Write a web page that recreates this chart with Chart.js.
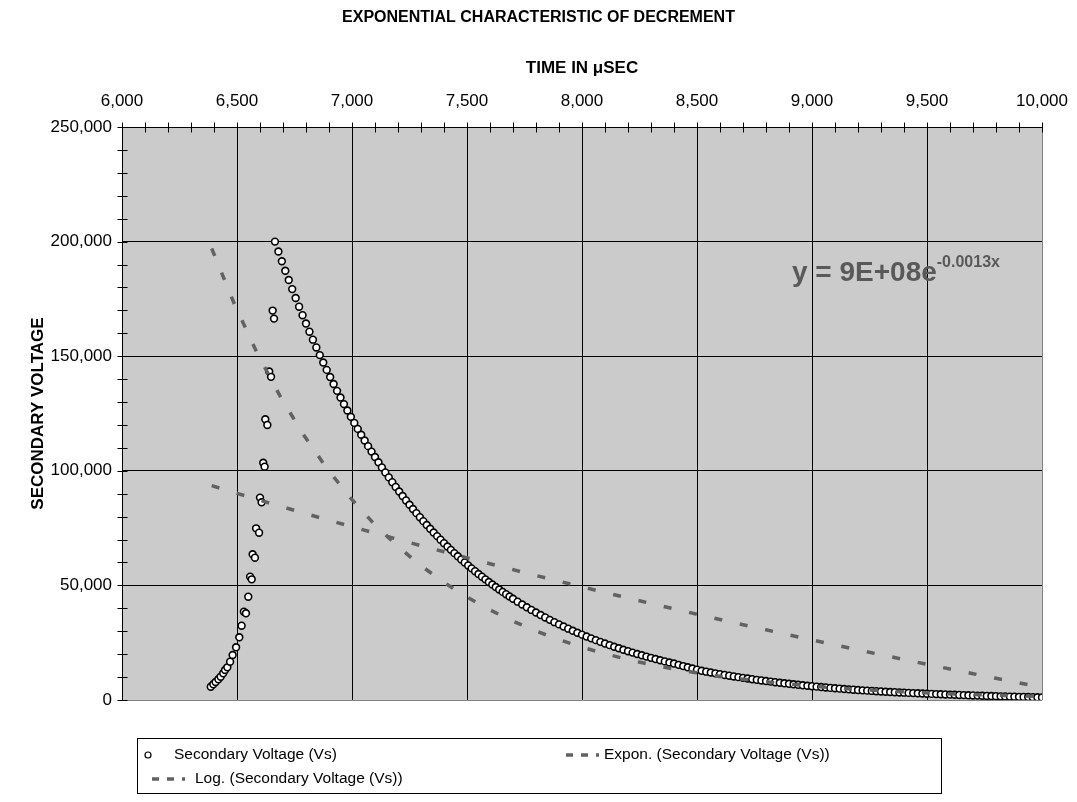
<!DOCTYPE html>
<html>
<head>
<meta charset="utf-8">
<script src="https://cdn.jsdelivr.net/npm/chart.js@4.4.1/dist/chart.umd.min.js"></script>
<style>
  html, body { margin: 0; padding: 0; background: #fff; }
  #wrap { width: 1077px; height: 802px; }
</style>
</head>
<body>
<div id="wrap"><canvas id="myChart" width="1077" height="802"></canvas></div>
<script>
'use strict';

const FONT = "'Liberation Sans', Arial, sans-serif";

// rising branch of the measured points (time in usec, volts)
const riseTime = [6386, 6397, 6407, 6419, 6429, 6440, 6448, 6458, 6470, 6481,
    6496, 6510, 6520, 6530, 6539, 6549, 6557, 6564, 6568, 6578,
    6583, 6596, 6600, 6607, 6614, 6620, 6623, 6632, 6640, 6648,
    6655, 6661];
const riseVolt = [5800, 6850, 7850, 9030, 10170, 11640, 13090, 14250, 16710, 19630,
    22990, 27350, 32420, 38520, 37820, 45080, 53800, 52650, 63570, 62080,
    74900, 73000, 88300, 86260, 103500, 101800, 122500, 120000, 143300, 141000,
    169900, 166400];

// decaying branch
const decayTime = [6665, 6680, 6695, 6710, 6725, 6740, 6755, 6770, 6785, 6800,
    6815, 6830, 6845, 6860, 6875, 6890, 6905, 6920, 6935, 6950,
    6965, 6980, 6995, 7010, 7025, 7040, 7055, 7070, 7085, 7100,
    7115, 7130, 7145, 7160, 7175, 7190, 7205, 7220, 7235, 7250,
    7265, 7280, 7295, 7310, 7325, 7340, 7355, 7370, 7385, 7400,
    7415, 7430, 7445, 7460, 7475, 7490, 7505, 7520, 7535, 7550,
    7565, 7580, 7595, 7610, 7625, 7640, 7655, 7670, 7685, 7700,
    7720, 7740, 7760, 7780, 7800, 7820, 7840, 7860, 7880, 7900,
    7920, 7940, 7960, 7980, 8000, 8020, 8040, 8060, 8080, 8100,
    8120, 8140, 8160, 8180, 8200, 8220, 8240, 8260, 8280, 8300,
    8320, 8340, 8360, 8380, 8400, 8420, 8440, 8460, 8480, 8500,
    8520, 8540, 8560, 8580, 8600, 8620, 8640, 8660, 8680, 8700,
    8720, 8740, 8760, 8780, 8800, 8820, 8840, 8860, 8880, 8900,
    8920, 8940, 8960, 8980, 9000, 9020, 9040, 9060, 9080, 9100,
    9120, 9140, 9160, 9180, 9200, 9220, 9240, 9260, 9280, 9300,
    9320, 9340, 9360, 9380, 9400, 9420, 9440, 9460, 9480, 9500,
    9520, 9540, 9560, 9580, 9600, 9620, 9640, 9660, 9680, 9700,
    9720, 9740, 9760, 9780, 9800, 9820, 9840, 9860, 9880, 9900,
    9920, 9940, 9960, 9980, 10000];
const decayVolt = [200000, 195670, 191430, 187290, 183240, 179270, 175390, 171590, 167880, 164240,
    160690, 157210, 153810, 150480, 147220, 144030, 140910, 137860, 134880, 131960,
    129100, 126310, 123570, 120900, 118280, 115720, 113210, 110760, 108370, 106020,
    103720, 101480, 99280, 97130, 95030, 92970, 90960, 88990, 87060, 85180,
    83330, 81530, 79760, 78040, 76350, 74700, 73080, 71500, 69950, 68430,
    66950, 65500, 64080, 62700, 61340, 60010, 58710, 57440, 56200, 54980,
    53790, 52630, 51490, 50370, 49280, 48220, 47170, 46150, 45150, 44170,
    42900, 41670, 40470, 39300, 38170, 37070, 36010, 34970, 33960, 32990,
    32040, 31120, 30220, 29350, 28510, 27690, 26890, 26120, 25370, 24640,
    23930, 23240, 22570, 21920, 21290, 20680, 20080, 19500, 18940, 18400,
    17870, 17350, 16850, 16370, 15900, 15340, 14800, 14270, 13750, 13240,
    12740, 12360, 11990, 11630, 11280, 10930, 10600, 10280, 9970, 9660,
    9370, 9080, 8800, 8530, 8270, 8010, 7770, 7520, 7290, 7060,
    6840, 6630, 6420, 6220, 6020, 5830, 5650, 5470, 5290, 5120,
    4960, 4800, 4640, 4490, 4350, 4210, 4090, 3960, 3840, 3730,
    3610, 3500, 3400, 3290, 3200, 3100, 3010, 2920, 2830, 2740,
    2660, 2580, 2500, 2430, 2360, 2280, 2200, 2130, 2050, 1980,
    1910, 1850, 1780, 1720, 1660, 1600, 1540, 1490, 1430, 1380,
    1330, 1280, 1230, 1180, 1140];

// trendlines
const expTime = [6390, 6490, 6590, 6690, 6790, 6890, 6990, 7090, 7190, 7290,
    7390, 7490, 7590, 7690, 7790, 7890, 7990, 8090, 8190, 8290,
    8390, 8490, 8590, 8690, 8790, 8890, 8990, 9090, 9190, 9290,
    9390, 9490, 9590, 9690, 9790, 9890, 9990, 10000];
const expVolt = [197000, 172400, 150900, 132100, 115600, 101200, 88550, 77500, 67830, 59370,
    51960, 45480, 39800, 34830, 30490, 26680, 23350, 20440, 17890, 15660,
    13700, 11990, 10500, 9190, 8040, 7040, 6160, 5390, 4720, 4130,
    3610, 3160, 2770, 2420, 2120, 1860, 1620, 1600];

const logTime = [6390, 6500, 6600, 6700, 6800, 6900, 7000, 7100, 7200, 7300,
    7400, 7500, 7600, 7700, 7800, 7900, 8000, 8100, 8200, 8300,
    8400, 8500, 8600, 8700, 8800, 8900, 9000, 9100, 9200, 9300,
    9400, 9500, 9600, 9700, 9800, 9900, 10000];
const logVolt = [93500, 90150, 87150, 84190, 81280, 78410, 75590, 72800, 70050, 67340,
    64670, 62030, 59430, 56860, 54320, 51820, 49350, 46910, 44500, 42110,
    39760, 37430, 35140, 32860, 30620, 28400, 26200, 24030, 21880, 19760,
    17660, 15580, 13520, 11490, 9470, 7470, 5500];

const xTicks = [6000, 6500, 7000, 7500, 8000, 8500, 9000, 9500, 10000];
const yTicks = [0, 50000, 100000, 150000, 200000, 250000];

const seriesNames = ['Secondary Voltage (Vs)', 'Expon. (Secondary Voltage (Vs))', 'Log. (Secondary Voltage (Vs))'];
const chartTitle = 'EXPONENTIAL CHARACTERISTIC OF DECREMENT';
const eqMain = 'y = 9E+08e';
const eqExp = '-0.0013x';

function pts(xs, ys) {
    return xs.map((x, i) => ({ x: x, y: ys[i] }));
}

const trendStyle = {
    showLine: true,
    borderColor: '#626262',
    borderWidth: 3.5,
    borderDash: [8, 18],
    borderCapStyle: 'butt',
    pointRadius: 0,
    pointHoverRadius: 0,
    fill: false,
    order: 0
};

const plotBg = {
    id: 'plotBg',
    beforeDraw(chart) {
        const a = chart.chartArea, c = chart.ctx;
        c.save();
        c.fillStyle = '#cbcbcb';
        c.fillRect(a.left, a.top, a.right - a.left, a.bottom - a.top);
        c.restore();
    }
};

const extras = {
    id: 'extras',
    afterDraw(chart) {
        const c = chart.ctx, a = chart.chartArea;
        const xs = chart.scales.x, ys = chart.scales.y;
        c.save();

        // minor + major tick marks crossing the axes
        c.strokeStyle = '#000';
        c.lineWidth = 1;
        c.beginPath();
        const top = Math.round(a.top) + 0.5;
        for (let v = xs.min; v <= xs.max; v += 100) {
            const px = Math.round(xs.getPixelForValue(v)) + 0.5;
            c.moveTo(px, top - 5);
            c.lineTo(px, top + 5);
        }
        const left = Math.round(a.left) + 0.5;
        for (let v = ys.min; v <= ys.max; v += 10000) {
            const py = Math.round(ys.getPixelForValue(v)) + 0.5;
            c.moveTo(left - 5, py);
            c.lineTo(left + 5, py);
        }
        c.stroke();

        // title
        c.fillStyle = '#000';
        c.font = 'bold 16px ' + FONT;
        c.textAlign = 'center';
        c.textBaseline = 'middle';
        c.fillText(chartTitle, chart.width / 2, 18);

        // trend equation
        const ex = xs.getPixelForValue(8913), ey = ys.getPixelForValue(183000);
        c.fillStyle = '#595959';
        c.textAlign = 'left';
        c.textBaseline = 'alphabetic';
        c.font = 'bold 28px ' + FONT;
        c.fillText(eqMain, ex, ey);
        const w = c.measureText(eqMain).width;
        c.font = 'bold 16px ' + FONT;
        c.fillText(eqExp, ex + w, ey - 14);

        // legend
        const L = 137, T = 738, R = 941, B = 793;
        c.strokeStyle = '#000';
        c.lineWidth = 1;
        c.strokeRect(L + 0.5, T + 0.5, R - L, B - T);
        c.font = '15.5px ' + FONT;
        c.fillStyle = '#000';
        c.textBaseline = 'middle';
        const ds = chart.data.datasets;
        // row 1: points
        c.beginPath();
        c.arc(148, 755, 3, 0, Math.PI * 2);
        c.fillStyle = ds[0].backgroundColor;
        c.fill();
        c.strokeStyle = ds[0].borderColor;
        c.lineWidth = 1.2;
        c.stroke();
        c.fillStyle = '#000';
        c.fillText(ds[0].label, 174, 755);
        // dashed markers
        const dashItem = (d, x0, y0, tx) => {
            c.save();
            c.strokeStyle = d.borderColor;
            c.lineWidth = d.borderWidth;
            c.setLineDash([7, 8]);
            c.beginPath();
            c.moveTo(x0, y0);
            c.lineTo(x0 + 33, y0);
            c.stroke();
            c.restore();
            c.fillStyle = '#000';
            c.fillText(d.label, tx, y0);
        };
        dashItem(ds[1], 566, 755, 604);
        dashItem(ds[2], 152, 779, 195);

        c.restore();
    }
};

const ctx = document.getElementById('myChart').getContext('2d');

const myChart = new Chart(ctx, {
    type: 'scatter',
    data: {
        datasets: [{
            label: seriesNames[0],
            data: pts(riseTime, riseVolt).concat(pts(decayTime, decayVolt)),
            pointStyle: 'circle',
            pointRadius: 3.4,
            pointBorderWidth: 1.6,
            backgroundColor: '#ffffff',
            borderColor: '#000000',
            showLine: false,
            order: 1
        }, Object.assign({
            label: seriesNames[1],
            data: pts(expTime, expVolt)
        }, trendStyle), Object.assign({
            label: seriesNames[2],
            data: pts(logTime, logVolt)
        }, trendStyle)]
    },
    plugins: [plotBg, extras],
    options: {
        responsive: false,
        maintainAspectRatio: false,
        animation: false,
        devicePixelRatio: 1,
        layout: {
            padding: { top: 52, right: 35, bottom: 102, left: 0 }
        },
        plugins: {
            legend: { display: false },
            tooltip: { enabled: false },
            title: { display: false }
        },
        scales: {
            x: {
                type: 'linear',
                position: 'top',
                min: 6000,
                max: 10000,
                afterFit: function (scale) {
                    scale.height = 75;
                    scale.paddingLeft = 0;
                    scale.paddingRight = 0;
                },
                afterBuildTicks: function (scale) {
                    scale.ticks = xTicks.map(v => ({ value: v }));
                },
                ticks: {
                    padding: 15,
                    color: '#000',
                    font: { family: FONT, size: 17 },
                    maxRotation: 0
                },
                grid: {
                    drawTicks: false,
                    lineWidth: 1,
                    color: function (c) {
                        return c.tick && c.tick.value === 10000 ? '#808080' : '#000';
                    }
                },
                border: { display: true, color: '#000', width: 1 },
                title: {
                    display: true,
                    text: 'TIME IN \u03bcSEC',
                    color: '#000',
                    font: { family: FONT, size: 17, weight: 'bold' },
                    padding: { top: 6, bottom: 0 }
                }
            },
            y: {
                type: 'linear',
                min: 0,
                max: 250000,
                afterFit: function (scale) {
                    scale.width = 122;
                    scale.paddingTop = 0;
                    scale.paddingBottom = 0;
                },
                afterBuildTicks: function (scale) {
                    scale.ticks = yTicks.map(v => ({ value: v }));
                },
                ticks: {
                    padding: 10,
                    color: '#000',
                    font: { family: FONT, size: 17 }
                },
                grid: {
                    drawTicks: false,
                    lineWidth: 1,
                    color: function (c) {
                        return c.tick && c.tick.value === 0 ? '#808080' : '#000';
                    }
                },
                border: { display: true, color: '#000', width: 1 },
                title: {
                    display: true,
                    text: 'SECONDARY VOLTAGE',
                    color: '#000',
                    font: { family: FONT, size: 17, weight: 'bold' },
                    padding: { top: 28, bottom: 0 }
                }
            }
        }
    }
});
</script>
</body>
</html>
